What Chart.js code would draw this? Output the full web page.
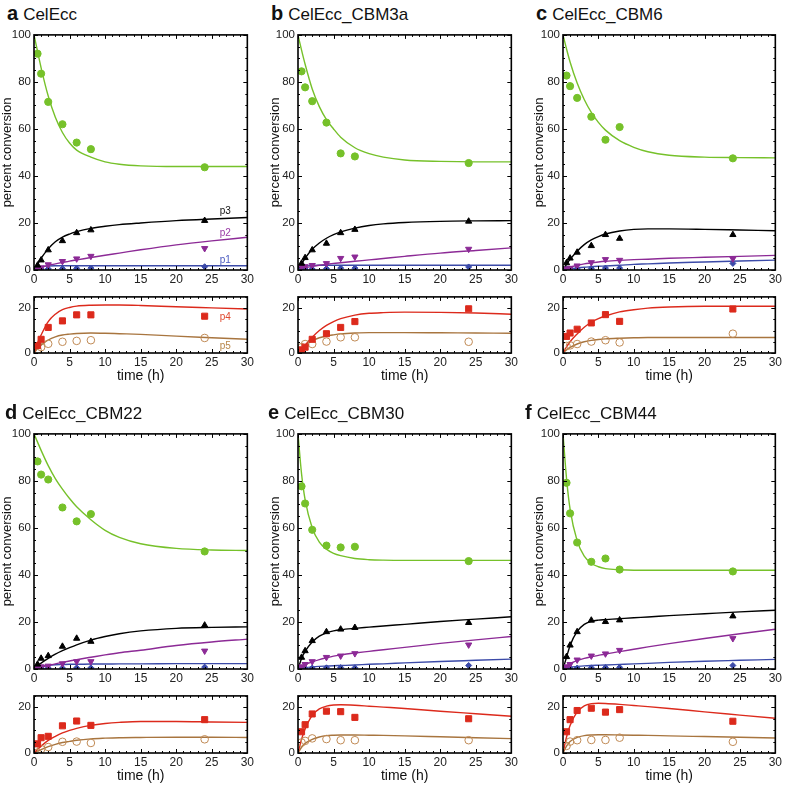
<!DOCTYPE html>
<html>
<head>
<meta charset="utf-8">
<script src="https://cdn.jsdelivr.net/npm/chart.js@4.4.1/dist/chart.umd.min.js"></script>
<style>
  body { margin: 0; background: #fff; font-family: "Liberation Sans", Arial, sans-serif; }
  #wrap { position: relative; width: 785px; height: 785px; overflow: hidden; }
  canvas { position: absolute; }
  .ttl { position: absolute; font-size: 17px; color: #111; white-space: nowrap; line-height: 20px; }
  .ttl b { font-size: 20px; margin-right: 5px; }
</style>
</head>
<body>
<div id="wrap"></div>
<script>
// panels a..f
const panelLetters = ['a', 'b', 'c', 'd', 'e', 'f'];
const panelNames = ['CelEcc', 'CelEcc_CBM3a', 'CelEcc_CBM6', 'CelEcc_CBM22', 'CelEcc_CBM30', 'CelEcc_CBM44'];

const sampleTimes = [0.5, 1, 2, 4, 6, 8, 24];
const fitTimes = [0, 0.5, 1, 2, 3, 4, 5, 6, 8, 10, 12, 15, 20, 25, 30];
const xTicks = [0, 5, 10, 15, 20, 25, 30];
const mainYTicks = [0, 20, 40, 60, 80, 100];
const subYTicks = [0, 20];

// measured points (percent conversion)
const substrateObs = [
  [92, 83.5, 71.5, 62, 54.2, 51.4, 43.7],
  [84.5, 77.7, 71.8, 62.7, 49.6, 48.3, 45.5],
  [82.7, 78.2, 73.2, 65.2, 55.4, 60.8, 47.5],
  [88.3, 82.7, 80.6, 68.7, 62.8, 65.9, 50],
  [77.7, 70.4, 59.2, 52.5, 51.7, 52, 45.9],
  [79.2, 66.2, 53.8, 45.6, 47, 42.3, 41.5]
];
const p3Obs = [
  [2, 4.2, 8.5, 12.4, 15.8, 17, 21],
  [2.8, 5.2, 8.5, 11.3, 15.8, 17.2, 20.7],
  [3, 5, 7.5, 10.3, 15, 13.4, 15],
  [2, 4.5, 5.6, 9.6, 13, 11.7, 18.6],
  [4.9, 7.7, 12, 15.8, 16.9, 17.6, 19.7],
  [5.2, 10.1, 15.8, 20.7, 20.1, 20.8, 22.5]
];
const p2Obs = [
  [0.5, 1, 2.3, 3.7, 4.8, 5.9, 9.2],
  [1.4, 1.5, 2, 2.8, 5, 5.6, 8.9],
  [0.5, 0.8, 1.8, 3.2, 4.5, 4.2, 4.8],
  [0.6, 1, 1.3, 2.3, 3.2, 3.2, 7.7],
  [1, 2, 3.2, 5, 5.6, 6.6, 10.3],
  [1, 2, 3.9, 5.6, 6.5, 8, 13]
];
const p1Obs = [
  [0.3, 0.4, 0.5, 0.6, 0.7, 0.8, 1.4],
  [0.3, 0.4, 0.4, 0.6, 0.8, 0.8, 1.3],
  [0.3, 0.4, 0.5, 0.7, 0.8, 0.8, 2.8],
  [0.3, 0.3, 0.4, 0.4, 0.5, 0.5, 0.8],
  [0.2, 0.3, 0.4, 0.5, 0.6, 0.5, 1.5],
  [0.2, 0.3, 0.4, 0.5, 0.6, 0.7, 1.5]
];
const p4Obs = [
  [3.3, 6.1, 11.4, 14.3, 17, 17, 16.4],
  [1.4, 2.6, 6.1, 8.6, 11.4, 14, 19.7],
  [7.4, 8.9, 10.6, 13.4, 17.1, 14.1, 19.6],
  [4, 6.7, 7.3, 11.9, 14, 12.1, 14.6],
  [9.3, 12.4, 17.1, 18.3, 18.1, 15.6, 15],
  [9.3, 14.6, 18.6, 19.6, 17.9, 19, 13.9]
];
const p5Obs = [
  [1.4, 2.6, 4.1, 5, 5.4, 5.7, 6.7],
  [2.6, 4, 4, 5.1, 7, 7, 5],
  [3.1, 3.4, 4, 5.1, 5.7, 4.7, 8.6],
  [0.2, 1.7, 2.6, 4.9, 5, 4.4, 6],
  [4.6, 5.3, 6.4, 6.1, 5.6, 5.6, 5.6],
  [3.1, 5, 5.6, 5.7, 5.7, 6.7, 4.9]
];

// model fits, read at fitTimes
const substrateFit = [
  [100, 93, 86, 74, 65, 58.5, 54, 51, 48, 46, 45, 44.3, 44, 44, 44],
  [100, 93.5, 87.5, 77, 69.5, 64, 60, 56.5, 52, 49.5, 48, 46.8, 46.2, 46, 46],
  [100, 94, 88.5, 79.5, 72.5, 67, 62.8, 59.5, 55, 52.2, 50.3, 48.8, 48, 47.8, 47.7],
  [100, 96.5, 93, 86.5, 81, 76.5, 72.5, 69, 63.5, 59, 56, 53.3, 51.3, 50.6, 50.4],
  [100, 83, 72, 60, 54, 51, 49.2, 48.2, 47, 46.5, 46.3, 46.2, 46.2, 46.2, 46.2],
  [100, 81, 68, 54.5, 48, 45, 43.5, 42.7, 42.2, 42, 42, 42, 42, 42, 42]
];
const p3Fit = [
  [0, 2.5, 5, 9, 12, 14, 15.3, 16.3, 17.7, 18.6, 19.3, 20, 21, 21.7, 22.3],
  [0, 2.6, 5, 8.8, 11.5, 13.5, 15, 16.2, 17.8, 18.9, 19.6, 20.2, 20.7, 20.9, 21],
  [0, 2.4, 4.5, 8, 10.8, 12.8, 14.2, 15.3, 16.6, 17.3, 17.5, 17.5, 17.3, 17, 16.7],
  [0, 1.3, 2.5, 4.5, 6.3, 7.8, 9.1, 10.3, 12.3, 13.8, 15, 16.2, 17.3, 17.7, 17.9],
  [0, 4.5, 7.5, 11.5, 14, 15.4, 16.2, 16.7, 17.3, 17.8, 18.3, 19, 20.2, 21.2, 22.2],
  [0, 5, 10, 16, 19, 20.3, 20.8, 21, 21.4, 21.8, 22.1, 22.7, 23.5, 24.3, 25]
];
const p2Fit = [
  [0, 0.6, 1.1, 2, 2.6, 3.2, 3.8, 4.3, 5.3, 6.3, 7.2, 8.6, 10.7, 12.4, 13.9],
  [0, 0.6, 1, 1.5, 2, 2.4, 2.8, 3.1, 3.7, 4.3, 4.9, 5.8, 7.2, 8.3, 9.4],
  [0, 0.7, 1.2, 2, 2.6, 3, 3.4, 3.7, 4.1, 4.4, 4.6, 5, 5.4, 5.8, 6.2],
  [0, 0.4, 0.8, 1.5, 2.2, 2.8, 3.4, 4, 5, 6, 6.9, 8, 10, 11.5, 12.7],
  [0, 1, 1.8, 3, 4, 4.8, 5.5, 6, 6.8, 7.5, 8.2, 9.2, 10.9, 12.4, 13.8],
  [0, 1.3, 2.3, 3.6, 4.5, 5.2, 5.8, 6.4, 7.4, 8.4, 9.4, 10.8, 13, 15, 16.9]
];
const p1Fit = [
  [0, 0.9, 1.4, 1.7, 1.8, 1.8, 1.8, 1.8, 1.8, 1.8, 1.8, 1.8, 1.8, 1.8, 1.8],
  [0, 1.2, 1.7, 1.9, 2, 2, 2, 2, 2, 2, 2, 2, 2, 2, 2],
  [0, 0.3, 0.5, 0.9, 1.2, 1.4, 1.6, 1.7, 2, 2.4, 2.6, 3, 3.4, 3.8, 4.2],
  [0, 0.7, 1.2, 1.6, 1.8, 1.9, 2, 2, 2.1, 2.1, 2.2, 2.2, 2.3, 2.3, 2.3],
  [0, 0.35, 0.6, 0.9, 1.1, 1.25, 1.4, 1.5, 1.7, 2, 2.2, 2.6, 3.2, 3.7, 4.2],
  [0, 0.5, 0.8, 1.1, 1.35, 1.5, 1.6, 1.7, 1.95, 2.2, 2.4, 2.8, 3.3, 3.7, 4.1]
];
const p4Fit = [
  [0, 4.5, 8, 14, 17.3, 19.3, 20.3, 20.9, 21.3, 21.4, 21.4, 21.2, 20.6, 20.1, 19.6],
  [0, 1.5, 3.5, 7, 10, 12.3, 14, 15.3, 16.9, 17.7, 18, 18.2, 18.1, 17.8, 17.3],
  [0, 2.7, 5, 8.5, 11.5, 13.7, 15.3, 16.5, 18.3, 19.3, 20, 20.5, 20.8, 20.8, 20.8],
  [0, 1.6, 3, 5.5, 7.3, 8.8, 9.9, 10.8, 12.1, 12.9, 13.4, 13.8, 13.8, 13.6, 13.4],
  [0, 6, 10.5, 16.5, 19.3, 20.5, 21, 21.1, 20.9, 20.5, 20.1, 19.5, 18.3, 17.2, 16.1],
  [0, 7, 12, 18, 20.6, 21.6, 21.8, 21.7, 21.3, 20.8, 20.3, 19.5, 18, 16.6, 15.2]
];
const p5Fit = [
  [0, 2, 3.5, 5.8, 7.2, 8, 8.4, 8.7, 8.9, 8.8, 8.6, 8.3, 7.5, 6.8, 6.1],
  [0, 2, 3.5, 5.5, 6.8, 7.6, 8.1, 8.5, 8.9, 9.1, 9.1, 9.1, 9, 8.9, 8.8],
  [0, 1.4, 2.5, 4, 5, 5.6, 6, 6.3, 6.6, 6.8, 6.9, 6.9, 6.9, 6.9, 6.9],
  [0, 0.8, 1.5, 2.8, 3.8, 4.6, 5.1, 5.6, 6.2, 6.5, 6.7, 6.8, 6.9, 6.9, 6.8],
  [0, 2.5, 4.2, 6, 7, 7.6, 7.8, 7.9, 7.9, 7.8, 7.7, 7.5, 7.1, 6.7, 6.3],
  [0, 3, 5, 6.8, 7.6, 7.9, 8, 8, 7.9, 7.8, 7.7, 7.5, 7.2, 6.9, 6.6]
];

// curve labels (panel a only)
const mainCurveLabels = [
  { text: 'p3', x: 26.9, y: 25, color: '#111' },
  { text: 'p2', x: 26.9, y: 15.5, color: '#9a3aa6' },
  { text: 'p1', x: 26.9, y: 4.2, color: '#4a5ac0' }
];
const subCurveLabels = [
  { text: 'p4', x: 26.9, y: 16.1, color: '#e04a30' },
  { text: 'p5', x: 26.9, y: 3.1, color: '#b8874a' }
];

const GREEN = '#76c12a', BLACK = '#000', PURPLE = '#8c2a96', BLUE = '#3b4aa8', RED = '#dc2a1c', BROWN = '#a8753f', BROWN_PT = '#c08a55';

// layout
const colLeft = [34, 298, 563], colRight = [250, 514, 778];
const mainTop = [33, 432], mainBot = [270, 669], subTop = [295, 694], subBot = [353, 753];
const yTitlePad = [0, 4, 3];
const titlePos = [[7, 3], [271, 3], [536, 3], [5, 402], [268, 402], [525, 402]];
const AXIS_W = 34;
const FONT = '"Liberation Sans", Arial, sans-serif';

const framePlugin = {
  id: 'frame',
  afterDatasetsDraw(chart, args, o) {
    const { ctx, chartArea: a, scales: { x, y } } = chart;
    ctx.save();
    ctx.strokeStyle = '#000';
    ctx.lineWidth = 1;
    ctx.beginPath();
    for (let v = 0; v <= 30; v += 1) {
      const px = Math.round(x.getPixelForValue(v)) + 0.5;
      const len = v % 5 === 0 ? 4 : 2;
      ctx.moveTo(px, a.bottom); ctx.lineTo(px, a.bottom - len);
      ctx.moveTo(px, a.top); ctx.lineTo(px, a.top + len);
    }
    for (let v = 0; v <= o.yMax; v += o.yMinor) {
      const py = Math.round(y.getPixelForValue(v)) + 0.5;
      const len = v % o.yMajor === 0 ? 4 : 2;
      ctx.moveTo(a.left, py); ctx.lineTo(a.left + len, py);
      ctx.moveTo(a.right, py); ctx.lineTo(a.right - len, py);
    }
    ctx.stroke();
    ctx.lineWidth = 1.6;
    ctx.strokeRect(a.left, a.top, a.width, a.height);
    ctx.font = '10px ' + FONT;
    ctx.textAlign = 'center';
    ctx.textBaseline = 'middle';
    (o.labels || []).forEach(l => {
      ctx.fillStyle = l.color;
      ctx.fillText(l.text, x.getPixelForValue(l.x), y.getPixelForValue(l.y));
    });
    ctx.restore();
  }
};

function pts(ts, vs) { return ts.map((t, i) => ({ x: t, y: vs[i] })); }

function obsSet(data, style, color, radius, extra) {
  return Object.assign({
    data: pts(sampleTimes, data), showLine: false, pointStyle: style,
    pointRadius: radius, pointBackgroundColor: color, pointBorderColor: color,
    pointBorderWidth: 1, pointHoverRadius: radius
  }, extra || {});
}
function fitSet(data, color) {
  return {
    data: pts(fitTimes, data), showLine: true, pointRadius: 0, borderColor: color,
    borderWidth: 1.4, cubicInterpolationMode: 'monotone', fill: false
  };
}

function makeChart(left, top, plotW, plotH, xAxisH, datasets, cfg) {
  const c = document.createElement('canvas');
  const w = plotW + AXIS_W + 6, h = plotH + 8 + xAxisH;
  c.width = w; c.height = h;
  c.style.left = (left - AXIS_W) + 'px';
  c.style.top = (top - 8) + 'px';
  document.getElementById('wrap').appendChild(c);
  new Chart(c.getContext('2d'), {
    type: 'scatter',
    data: { datasets: datasets },
    options: {
      responsive: false, animation: false, events: [],
      layout: { padding: { top: 8, right: 6, left: 0, bottom: 0 } },
      plugins: { legend: { display: false }, tooltip: { enabled: false }, frame: cfg.frame },
      scales: {
        x: {
          type: 'linear', min: 0, max: 30,
          afterBuildTicks: s => { s.ticks = xTicks.map(v => ({ value: v })); },
          afterFit: s => { s.height = xAxisH; },
          grid: { display: false, drawTicks: false }, border: { display: false },
          ticks: { padding: 2, color: '#222', font: { family: FONT, size: 12 }, maxRotation: 0 },
          title: cfg.xTitle ? { display: true, text: 'time (h)', color: '#111', font: { family: FONT, size: 14 }, padding: { top: 0, bottom: 2 } } : { display: false }
        },
        y: {
          type: 'linear', min: 0, max: cfg.yMax,
          afterBuildTicks: s => { s.ticks = cfg.yTicks.map(v => ({ value: v })); },
          afterFit: s => { s.width = AXIS_W; },
          grid: { display: false, drawTicks: false }, border: { display: false },
          ticks: { padding: 3, color: '#222', font: { family: FONT, size: 11.5 } },
          title: cfg.yTitle ? { display: true, text: 'percent conversion', color: '#111', font: { family: FONT, size: 13 }, padding: { top: cfg.yPad, bottom: 0 } } : { display: false }
        }
      }
    },
    plugins: [framePlugin]
  });
}

for (let i = 0; i < 6; i++) {
  const col = i % 3, row = Math.floor(i / 3);
  const L = colLeft[col], W = colRight[col] - colLeft[col];

  const t = document.createElement('div');
  t.className = 'ttl';
  t.style.left = titlePos[i][0] + 'px';
  t.style.top = titlePos[i][1] + 'px';
  t.innerHTML = '<b>' + panelLetters[i] + '</b>' + panelNames[i];
  document.getElementById('wrap').appendChild(t);

  makeChart(L, mainTop[row], W, mainBot[row] - mainTop[row], 18, [
    obsSet(substrateObs[i], 'circle', GREEN, 3.6),
    obsSet(p3Obs[i], 'triangle', BLACK, 3.6),
    obsSet(p2Obs[i], 'triangle', PURPLE, 3.6, { rotation: 180 }),
    obsSet(p1Obs[i], 'rectRot', BLUE, 3),
    fitSet(substrateFit[i], GREEN),
    fitSet(p3Fit[i], BLACK),
    fitSet(p2Fit[i], PURPLE),
    fitSet(p1Fit[i], BLUE)
  ], {
    yMax: 100, yTicks: mainYTicks, yTitle: true, yPad: yTitlePad[col], xTitle: false,
    frame: { yMax: 100, yMinor: 5, yMajor: 20, labels: i === 0 ? mainCurveLabels : [] }
  });

  makeChart(L, subTop[row], W, subBot[row] - subTop[row], 34, [
    obsSet(p4Obs[i], 'rect', RED, 4.3),
    obsSet(p5Obs[i], 'circle', 'rgba(0,0,0,0)', 3.8, { pointBorderColor: BROWN_PT }),
    fitSet(p4Fit[i], RED),
    fitSet(p5Fit[i], BROWN)
  ], {
    yMax: 25, yTicks: subYTicks, yTitle: false, xTitle: true,
    frame: { yMax: 25, yMinor: 5, yMajor: 20, labels: i === 0 ? subCurveLabels : [] }
  });
}
</script>
</body>
</html>
